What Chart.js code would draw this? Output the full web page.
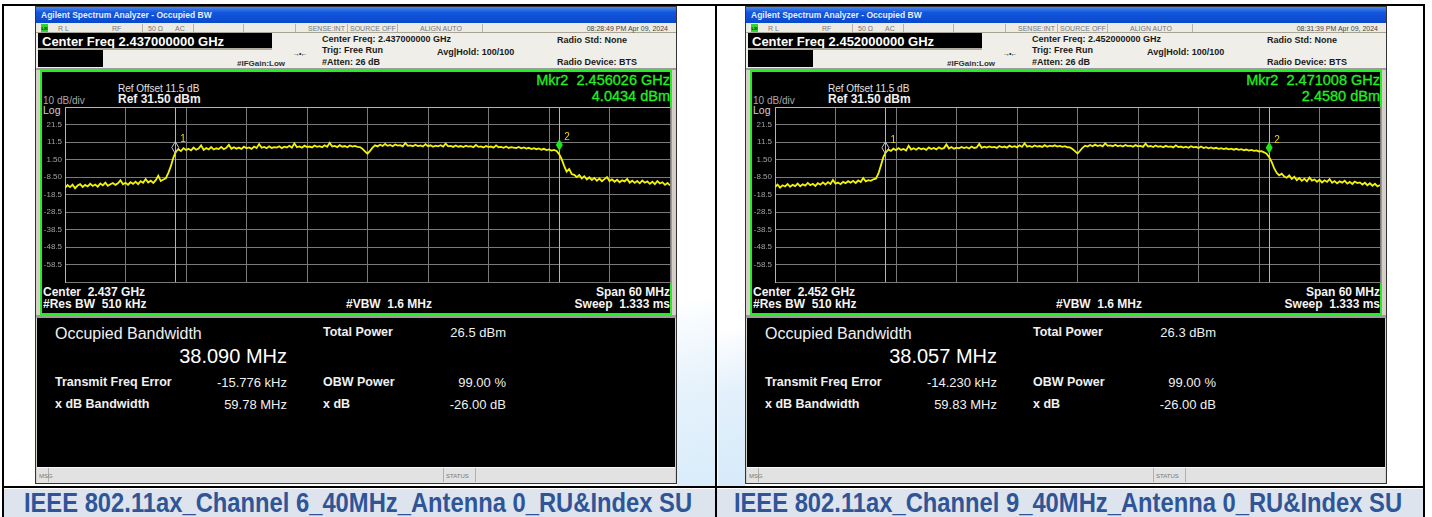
<!DOCTYPE html>
<html>
<head>
<meta charset="utf-8">
<script src="https://cdn.jsdelivr.net/npm/chart.js@4.4.1/dist/chart.umd.min.js"></script>
<style>
  body { margin: 0; width: 1432px; height: 517px; background: #fff; position: relative; overflow: hidden; font-family: "Liberation Sans", Arial, sans-serif; }
  canvas { position: absolute; }
</style>
</head>
<body>
<script>
// sweep: 60 MHz span around the centre, one reading every 0.25 MHz
const sweepStartMHz = -30;
const sweepStepMHz = 0.25;
const refLevelDbm = 31.5;
const bottomLevelDbm = -68.5;
const dbPerDiv = 10;
const freqPerDivMHz = 6;

// trace readings (dBm), channel 6
const ch6TraceDbm = [
  // -30 .. -20.25 MHz, noise floor
  -14.8, -13.1, -14.3, -12.9, -15.0, -13.4, -12.6, -14.2, -13.0, -13.9,
  -12.4, -13.6, -12.8, -14.0, -12.2, -13.3, -11.7, -13.5, -12.6, -11.9,
  -13.0, -12.1, -10.4, -12.7, -11.8, -12.9, -11.5, -12.4, -11.2, -12.6,
  -10.9, -11.8, -9.7, -11.6, -10.6, -11.9, -10.3, -7.8, -10.8, -9.9,
  // -20 .. -19, rising edge
  -9.2, -6.1, -2.3, 2.6, 6.0,
  // -18.75 .. -0.75, lower half of the channel
  7.4, 6.3, 8.0, 6.9, 7.6, 6.7, 8.3, 7.1, 7.8, 9.6,
  7.0, 8.1, 7.3, 8.6, 7.2, 7.9, 7.5, 8.7, 7.4, 8.2,
  9.9, 7.6, 8.5, 7.7, 8.3, 7.5, 8.8, 7.9, 8.4, 7.6,
  8.9, 8.0, 10.3, 8.2, 8.7, 7.9, 9.0, 8.1, 8.6, 8.3,
  9.1, 8.0, 8.8, 8.4, 9.3, 8.2, 10.7, 8.5, 9.0, 8.3,
  9.4, 8.6, 8.9, 8.4, 9.5, 8.7, 9.1, 8.5, 9.6, 8.8,
  11.0, 8.9, 9.3, 8.6, 9.7, 8.8, 9.2, 8.5, 9.5, 8.9,
  9.3, 8.7, 8.6,
  // -0.5 .. 0.5, DC notch
  7.6, 6.2, 4.8, 6.4, 8.3,
  // 0.75 .. 18.75, upper half of the channel
  9.6, 9.0, 9.9, 9.2, 10.4, 9.3, 9.8, 9.1, 10.1, 9.4,
  9.7, 9.0, 10.9, 9.3, 9.6, 9.1, 9.9, 9.2, 9.5, 8.9,
  10.3, 9.1, 9.6, 8.8, 9.4, 9.0, 9.7, 8.9, 10.6, 9.0,
  9.3, 8.7, 9.5, 8.8, 9.2, 8.6, 9.4, 8.9, 9.1, 8.5,
  9.8, 8.7, 9.0, 8.4, 9.2, 8.6, 8.9, 8.3, 9.6, 8.5,
  8.7, 8.2, 8.9, 8.1, 8.6, 8.3, 8.0, 8.7, 7.9, 8.4,
  7.7, 8.2, 7.5, 8.0, 7.4, 7.8, 7.1, 7.6, 6.9, 7.3,
  6.6, 7.0, 6.4,
  // 19 .. 20.5, falling edge
  4.6, 1.8, -2.1, -5.4, -3.9, -6.8, -7.3,
  // 20.75 .. 30, noise floor
  -8.6, -7.4, -9.3, -8.1, -9.9, -8.7, -10.2, -9.0, -10.6, -9.4,
  -10.9, -9.7, -8.5, -10.8, -9.9, -11.2, -10.1, -11.5, -10.4, -11.0,
  -9.6, -11.7, -10.6, -11.9, -10.8, -12.1, -10.5, -11.8, -11.0, -12.4,
  -11.2, -12.6, -10.8, -12.2, -11.5, -13.0, -11.9, -13.3
];

// trace readings (dBm), channel 9
const ch9TraceDbm = [
  -14.3, -12.8, -14.6, -13.2, -13.9, -12.5, -14.1, -13.0, -13.7, -12.3,
  -13.8, -12.7, -13.4, -11.9, -13.2, -12.4, -13.6, -12.0, -12.9, -11.6,
  -12.8, -11.4, -12.5, -10.2, -12.3, -11.7, -12.6, -11.3, -12.0, -10.9,
  -11.8, -10.7, -11.9, -10.5, -11.4, -9.1, -11.0, -10.3, -10.7, -9.8,
  -9.5, -6.6, -2.0, 2.9, 5.8,
  7.1, 6.4, 7.7, 6.8, 8.0, 7.0, 7.5, 6.6, 9.4, 7.2,
  7.9, 7.1, 8.2, 7.4, 7.8, 7.0, 8.4, 7.5, 8.1, 7.3,
  8.5, 7.6, 8.0, 10.1, 7.8, 8.6, 7.7, 8.3, 7.9, 8.7,
  8.0, 8.5, 7.8, 8.9, 8.1, 8.4, 10.4, 8.2, 8.8, 8.3,
  9.0, 8.4, 8.7, 8.1, 9.2, 8.5, 8.9, 8.3, 9.4, 8.6,
  9.1, 8.4, 9.6, 8.7, 10.8, 8.8, 9.3, 8.6, 9.5, 8.9,
  9.2, 8.7, 9.7, 8.8, 9.4, 9.0, 9.6, 8.9, 9.3, 8.7,
  9.1, 8.5, 8.4,
  7.5, 6.3, 4.9, 6.5, 8.2,
  9.4, 8.9, 9.8, 9.1, 10.0, 9.2, 9.7, 9.0, 10.7, 9.3,
  9.6, 9.1, 9.9, 9.0, 9.5, 8.9, 9.8, 9.2, 9.4, 8.8,
  9.7, 9.0, 9.3, 8.7, 10.5, 8.9, 9.2, 8.6, 9.5, 8.8,
  9.1, 8.5, 9.3, 8.7, 9.0, 8.4, 9.6, 8.6, 8.9, 8.3,
  8.8, 8.2, 9.1, 8.4, 8.7, 8.1, 8.9, 8.0, 8.5, 7.9,
  8.4, 7.8, 8.2, 7.6, 8.0, 7.5, 7.9, 7.3, 7.7, 7.1,
  7.6, 7.0, 7.4, 6.8, 7.2, 6.6, 7.0, 6.4, 6.7, 6.1,
  6.3, 5.6, 4.8,
  2.9, 0.2, -3.4, -6.1, -7.5, -6.6, -8.2,
  -8.9, -7.6, -9.6, -8.4, -10.3, -9.1, -10.7, -9.5, -11.0, -8.8,
  -10.6, -9.9, -11.2, -10.1, -11.6, -10.4, -11.3, -9.7, -11.8, -10.8,
  -12.1, -11.0, -11.7, -10.6, -12.3, -11.3, -12.5, -11.1, -12.0, -11.6,
  -12.8, -11.8, -13.2, -12.1, -13.5, -12.4, -13.9, -13.1
];

// OBW markers: offset from centre (MHz) and level (dBm)
const ch6MarkerMHz = [-19.064, 19.026];
const ch6MarkerDbm = [2.6, 4.0434];
const ch9MarkerMHz = [-19.049, 19.008];
const ch9MarkerDbm = [2.5, 2.458];

const ch6Info = {
  center: '2.437000000', centerShort: '2.437', time: '08:28:49 PM Apr 09, 2024',
  mkr: '2.456026 GHz', mkrLevel: '4.0434 dBm', obw: '38.090 MHz', power: '26.5 dBm',
  freqErr: '-15.776 kHz', xdbBw: '59.78 MHz',
  caption: 'IEEE 802.11ax_Channel 6_40MHz_Antenna 0_RU&Index SU'
};
const ch9Info = {
  center: '2.452000000', centerShort: '2.452', time: '08:31:39 PM Apr 09, 2024',
  mkr: '2.471008 GHz', mkrLevel: '2.4580 dBm', obw: '38.057 MHz', power: '26.3 dBm',
  freqErr: '-14.230 kHz', xdbBw: '59.83 MHz',
  caption: 'IEEE 802.11ax_Channel 9_40MHz_Antenna 0_RU&Index SU'
};

function el(css, text) {
  const d = document.createElement('div');
  d.style.cssText = 'position:absolute;' + css;
  if (text !== undefined) d.textContent = text;
  document.body.appendChild(d);
  return d;
}
function box(x, y, w, h, css) {
  return el(`left:${x}px;top:${y}px;width:${w}px;height:${h}px;box-sizing:border-box;${css || ''}`);
}
// y is the vertical centre of the text
function txt(x, y, s, css, align, extra) {
  const tr = align === 'r' ? 'translate(-100%,-50%)' : align === 'c' ? 'translate(-50%,-50%)' : 'translateY(-50%)';
  return el(`left:${x}px;top:${y}px;transform:${tr} ${extra || ''};white-space:pre;line-height:1;${css || ''}`, s);
}

const markerPlugin = {
  id: 'markers',
  beforeDatasetsDraw(chart, args, opts) {
    const { ctx, chartArea: a, scales: { x } } = chart;
    ctx.save();
    ctx.strokeStyle = '#b4b4b4';
    ctx.lineWidth = 1;
    opts.freqs.forEach(f => {
      const px = Math.round(x.getPixelForValue(f)) + 0.5;
      ctx.beginPath();
      ctx.moveTo(px, a.top);
      ctx.lineTo(px, a.bottom);
      ctx.stroke();
    });
    ctx.restore();
  },
  afterDatasetsDraw(chart, args, opts) {
    const { ctx, scales: { x, y } } = chart;
    ctx.save();
    opts.freqs.forEach((f, i) => {
      const px = x.getPixelForValue(f);
      const py = y.getPixelForValue(opts.levels[i]) - 10;
      ctx.beginPath();
      ctx.moveTo(px, py - 6);
      ctx.lineTo(px + 3.5, py);
      ctx.lineTo(px, py + 6);
      ctx.lineTo(px - 3.5, py);
      ctx.closePath();
      if (i === opts.active) {
        ctx.fillStyle = '#1fe41f';
        ctx.fill();
      } else {
        ctx.strokeStyle = '#c8c8c8';
        ctx.lineWidth = 1;
        ctx.stroke();
      }
      ctx.fillStyle = '#e8d800';
      ctx.font = '10px "Liberation Sans"';
      ctx.textBaseline = 'middle';
      ctx.fillText(String(i + 1), px + 5, py - 8);
    });
    ctx.restore();
  }
};

function buildPanel(dx, info, trace, mkrFreqs, mkrLevels) {
  // analyzer window frame
  box(dx + 35, 6, 642, 478, 'background:#d4d0c8;border:1px solid #333');
  box(dx + 36, 7, 640, 16, 'background:linear-gradient(#4a86f2,#1256dc 35%,#0a48cc)');
  txt(dx + 41, 15, 'Agilent Spectrum Analyzer - Occupied BW', 'font:bold 8.5px "Liberation Sans";color:#e6eeff');

  // status row
  box(dx + 36, 23, 640, 10, 'background:#ecebe4;border-bottom:1px solid #a8a498');
  box(dx + 41, 24, 7, 8, 'background:#2fd42f');
  txt(dx + 41.5, 28, 'LXI', 'font:bold 4px "Liberation Sans";color:#111');
  const st = 'font:7px "Liberation Sans";color:#777';
  txt(dx + 58, 28, 'R L', st);
  txt(dx + 112, 28, 'RF', st);
  txt(dx + 148, 28, '50 Ω', st);
  txt(dx + 175, 28, 'AC', st);
  txt(dx + 308, 28, 'SENSE:INT', st);
  txt(dx + 350, 28, 'SOURCE OFF', st);
  txt(dx + 420, 28, 'ALIGN AUTO', st);
  txt(dx + 668, 28, info.time, 'font:7px "Liberation Sans";color:#444', 'r');
  [142, 193, 243, 295, 347, 397, 482].forEach(sx => box(dx + sx, 24, 1, 8, 'background:#b8b4a8'));

  // setting header
  box(dx + 36, 33, 640, 35, 'background:#efeee8');
  box(dx + 38, 33, 234, 15, 'background:#000');
  txt(dx + 42, 40.5, 'Center Freq ' + info.center + ' GHz', 'font:bold 13px "Liberation Sans";color:#fff');
  box(dx + 38, 48, 234, 2, 'background:#b0aca0');
  box(dx + 38, 50, 65, 17, 'background:#000');
  const hd = 'font:bold 9px "Liberation Sans";color:#1a1a1a';
  txt(dx + 322, 38.5, 'Center Freq: ' + info.center + ' GHz', hd);
  txt(dx + 322, 50, 'Trig: Free Run', hd);
  txt(dx + 322, 62, '#Atten: 26 dB', hd);
  txt(dx + 437, 52, 'Avg|Hold: 100/100', hd);
  txt(dx + 557, 40, 'Radio Std: None', hd);
  txt(dx + 557, 62, 'Radio Device: BTS', hd);
  txt(dx + 237, 63, '#IFGain:Low', 'font:bold 8px "Liberation Sans";color:#333');
  txt(dx + 293, 53, '→•←', 'font:7px "Liberation Sans";color:#222;letter-spacing:-1px');

  // plot frame
  box(dx + 36, 68, 640, 2, 'background:#9c9c9c');
  box(dx + 40, 70, 632, 245, 'background:#000;border:2px solid #22ee22');
  box(dx + 36, 315, 640, 3, 'background:#9c9c9c');

  // plot annotations
  txt(dx + 118, 88, 'Ref Offset 11.5 dB', 'font:10px "Liberation Sans";color:#e0e0e0');
  txt(dx + 118, 99, 'Ref 31.50 dBm', 'font:bold 12px "Liberation Sans";color:#f0f0f0');
  txt(dx + 43, 100, '10 dB/div', 'font:10px "Liberation Sans";color:#a8a8a8');
  txt(dx + 43, 110, 'Log', 'font:10.5px "Liberation Sans";color:#d0d0d0');
  const gr = 'font:14.5px "Liberation Sans";color:#22f022;-webkit-text-stroke:0.3px #22f022';
  txt(dx + 670, 80, 'Mkr2  ' + info.mkr, gr, 'r');
  txt(dx + 670, 96, info.mkrLevel, gr, 'r');
  const ax = 'font:bold 12px "Liberation Sans";color:#f4f4f4';
  txt(dx + 43, 292, 'Center  ' + info.centerShort + ' GHz', ax);
  txt(dx + 43, 304, '#Res BW  510 kHz', ax);
  txt(dx + 346, 304, '#VBW  1.6 MHz', ax);
  txt(dx + 670, 292, 'Span 60 MHz', ax, 'r');
  txt(dx + 670, 304, 'Sweep  1.333 ms', ax, 'r');

  // result table
  box(dx + 37, 318, 638, 149, 'background:#000');
  const lb = 'font:bold 12.5px "Liberation Sans";color:#f0f0f0';
  const vl = 'font:13px "Liberation Sans";color:#f0f0f0';
  txt(dx + 55, 334, 'Occupied Bandwidth', 'font:16px "Liberation Sans";color:#f0f0f0');
  txt(dx + 287, 356, info.obw, 'font:20px "Liberation Sans";color:#fff', 'r');
  txt(dx + 323, 332, 'Total Power', lb);
  txt(dx + 506, 332, info.power, vl, 'r');
  txt(dx + 55, 382, 'Transmit Freq Error', lb);
  txt(dx + 287, 382, info.freqErr, vl, 'r');
  txt(dx + 323, 382, 'OBW Power', lb);
  txt(dx + 506, 382, '99.00 %', vl, 'r');
  txt(dx + 55, 404, 'x dB Bandwidth', lb);
  txt(dx + 287, 404, info.xdbBw, vl, 'r');
  txt(dx + 323, 404, 'x dB', lb);
  txt(dx + 506, 404, '-26.00 dB', vl, 'r');

  // message bar
  box(dx + 37, 467, 638, 16, 'background:#e2e2e2;border-top:1px solid #f8f8f8');
  [48, 443, 475].forEach(sx => box(dx + sx, 468, 1, 14, 'background:#b0b0b0'));
  txt(dx + 39, 476, 'MSG', 'font:6px "Liberation Sans";color:#777');
  txt(dx + 446, 476, 'STATUS', 'font:6px "Liberation Sans";color:#777');

  // spectrum plot
  const cv = document.createElement('canvas');
  cv.width = 630;
  cv.height = 241;
  cv.style.left = (dx + 42) + 'px';
  cv.style.top = '72px';
  document.body.appendChild(cv);

  const points = trace.map((v, i) => ({ x: sweepStartMHz + i * sweepStepMHz, y: v }));
  new Chart(cv, {
    type: 'line',
    data: {
      datasets: [{
        data: points,
        borderColor: '#f4f400',
        borderWidth: 1.8,
        pointRadius: 0,
        tension: 0
      }]
    },
    options: {
      responsive: false,
      animation: false,
      events: [],
      layout: { padding: { top: 35, right: 2, bottom: 31, left: 0 } },
      plugins: {
        legend: { display: false },
        tooltip: { enabled: false },
        markers: { freqs: mkrFreqs, levels: mkrLevels, active: 1 }
      },
      scales: {
        x: {
          type: 'linear',
          min: sweepStartMHz,
          max: -sweepStartMHz,
          ticks: { display: false, stepSize: freqPerDivMHz },
          grid: { color: '#7a7a7a', drawTicks: false },
          border: { color: '#7a7a7a' },
          afterFit: s => { s.height = 0; }
        },
        y: {
          min: bottomLevelDbm,
          max: refLevelDbm,
          ticks: {
            stepSize: dbPerDiv,
            padding: 3,
            color: '#a0a0a0',
            font: { size: 8, family: 'Liberation Sans' },
            callback: v => (v === refLevelDbm || v === bottomLevelDbm) ? '' : Number(v).toPrecision(3)
          },
          grid: {
            drawTicks: false,
            color: c => (c.tick && c.tick.value === refLevelDbm) ? '#b4b4b4' : '#7a7a7a'
          },
          border: { color: '#b4b4b4' },
          afterFit: s => { s.width = 23; }
        }
      }
    },
    plugins: [markerPlugin]
  });

  // caption
  txt(dx + 358, 503, info.caption,
    'font:bold 27px "Liberation Sans",Arial,sans-serif;color:#2f5597', 'c', 'scaleX(0.88)');
}

// page frame, watermark, caption band
box(677, 300, 40, 187, 'background:linear-gradient(165deg,#ffffff 0%,#e6f2fc 45%,#d9ecfa 100%)');
box(718, 330, 27, 157, 'background:linear-gradient(165deg,#ffffff 0%,#e3f0fb 40%,#d6eaf9 100%)');
box(3, 489, 1421, 28, 'background:#dde4ee');

buildPanel(0, ch6Info, ch6TraceDbm, ch6MarkerMHz, ch6MarkerDbm);
buildPanel(710, ch9Info, ch9TraceDbm, ch9MarkerMHz, ch9MarkerDbm);

box(2, 4, 1423, 2, 'background:#000');
box(2, 4, 2, 513, 'background:#000');
box(715, 4, 2, 513, 'background:#000');
box(1423, 4, 2, 513, 'background:#000');
box(2, 486, 1423, 2, 'background:#000');
</script>
</body>
</html>
